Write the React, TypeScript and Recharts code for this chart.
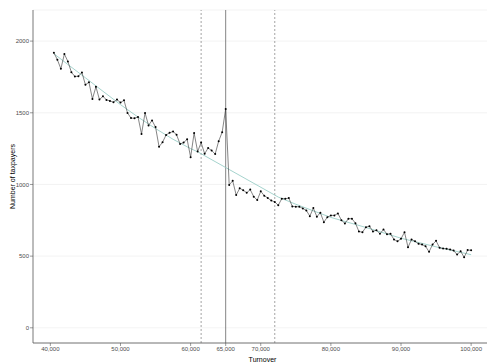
import { ComposedChart, Line, XAxis, YAxis, CartesianGrid, ReferenceLine } from 'recharts'

// turnover bins (500 wide) and the observed number of taxpayers in each
const turnover = [
  40500, 41000, 41500, 42000, 42500, 43000, 43500, 44000, 44500, 45000,
  45500, 46000, 46500, 47000, 47500, 48000, 48500, 49000, 49500, 50000,
  50500, 51000, 51500, 52000, 52500, 53000, 53500, 54000, 54500, 55000,
  55500, 56000, 56500, 57000, 57500, 58000, 58500, 59000, 59500, 60000,
  60500, 61000, 61500, 62000, 62500, 63000, 63500, 64000, 64500, 65000,
  65500, 66000, 66500, 67000, 67500, 68000, 68500, 69000, 69500, 70000,
  70500, 71000, 71500, 72000, 72500, 73000, 73500, 74000, 74500, 75000,
  75500, 76000, 76500, 77000, 77500, 78000, 78500, 79000, 79500, 80000,
  80500, 81000, 81500, 82000, 82500, 83000, 83500, 84000, 84500, 85000,
  85500, 86000, 86500, 87000, 87500, 88000, 88500, 89000, 89500, 90000,
  90500, 91000, 91500, 92000, 92500, 93000, 93500, 94000, 94500, 95000,
  95500, 96000, 96500, 97000, 97500, 98000, 98500, 99000, 99500, 100000,
]

const taxpayers = [
  1919, 1870, 1807, 1910, 1858, 1783, 1753, 1755, 1781, 1695,
  1713, 1597, 1681, 1592, 1615, 1590, 1583, 1574, 1592, 1571,
  1587, 1499, 1463, 1462, 1471, 1352, 1499, 1412, 1447, 1400,
  1263, 1295, 1345, 1360, 1370, 1346, 1282, 1292, 1315, 1190,
  1359, 1230, 1292, 1214, 1254, 1237, 1212, 1302, 1365, 1527,
  997, 1025, 926, 973, 960, 942, 964, 915, 891, 952,
  922, 905, 888, 878, 855, 901, 900, 905, 847, 845,
  845, 833, 819, 779, 835, 775, 803, 737, 772, 784,
  784, 798, 751, 728, 761, 761, 730, 672, 667, 702,
  709, 672, 681, 656, 686, 653, 656, 616, 604, 621,
  667, 562, 616, 604, 586, 581, 569, 530, 581, 607,
  558, 553, 551, 546, 539, 511, 534, 492, 542, 541,
]

// counterfactual fit, estimated outside the excluded window
const fitTurnover = [40500, 42500, 45000, 47500, 50000, 52500, 55000, 57500, 60000, 61000, 72500, 75000, 80000, 85000, 90000, 95000, 100000]
const fitValues = [1912, 1837, 1744, 1650, 1557, 1470, 1390, 1315, 1250, 1228, 912, 862, 770, 700, 625, 565, 510]

const windowBounds = [61500, 72000]
const notch = 65000

const xTicks = [40000, 50000, 60000, 65000, 70000, 80000, 90000, 100000]
const yTicks = [0, 500, 1000, 1500, 2000]

const FONT = '"Liberation Sans", Arial, sans-serif'

export default function App() {
  const dados = turnover.map((t, i) => ({ turnover: t, taxpayers: taxpayers[i] }))
  const ajuste = fitTurnover.map((t, i) => ({ turnover: t, fit: fitValues[i] }))

  return (
    <div style={{ position: 'fixed', left: 0, top: 0, width: 487, height: 363, overflow: 'hidden', background: '#fff' }}>
      <ComposedChart width={492} height={363} margin={{ top: 10, right: 0, bottom: 0, left: 0 }} style={{ fontFamily: FONT }}>
        <CartesianGrid vertical={false} stroke="#ebebeb" strokeWidth={0.6} />
        <XAxis
          dataKey="turnover"
          type="number"
          domain={[37525, 102975]}
          allowDataOverflow
          ticks={xTicks}
          tickFormatter={(v) => v.toLocaleString('en-US')}
          height={20}
          tickSize={3}
          tickMargin={1}
          tick={{ fontSize: 6, fill: '#4d4d4d' }}
          axisLine={{ stroke: '#555', strokeWidth: 0.8 }}
          tickLine={{ stroke: '#555', strokeWidth: 0.6 }}
          label={({ viewBox }: any) => (
            <text x={viewBox.x + viewBox.width / 2} y={359} textAnchor="middle" dominantBaseline="central" fontSize={7} fill="#000">
              Turnover
            </text>
          )}
        />
        <YAxis
          type="number"
          domain={[-106, 2217]}
          allowDataOverflow
          ticks={yTicks}
          width={33}
          tickSize={3}
          tickMargin={1}
          tick={{ fontSize: 6, fill: '#4d4d4d' }}
          axisLine={{ stroke: '#555', strokeWidth: 0.8 }}
          tickLine={{ stroke: '#555', strokeWidth: 0.6 }}
          label={({ viewBox }: any) => {
            const cy = viewBox.y + viewBox.height / 2
            return (
              <text x={12} y={cy} transform={`rotate(-90 12 ${cy})`} textAnchor="middle" dominantBaseline="central" fontSize={7} fill="#000">
                Number of taxpayers
              </text>
            )
          }}
        />
        {windowBounds.map((b) => (
          <ReferenceLine key={b} x={b} stroke="#666" strokeWidth={0.6} strokeDasharray="2 2" />
        ))}
        <ReferenceLine x={notch} stroke="#666" strokeWidth={0.8} />
        <Line
          data={ajuste}
          dataKey="fit"
          type="linear"
          stroke="#8ec8c0"
          strokeWidth={0.8}
          dot={false}
          isAnimationActive={false}
        />
        <Line
          data={dados}
          dataKey="taxpayers"
          type="linear"
          stroke="#333"
          strokeWidth={0.6}
          dot={{ r: 1, fill: '#000', stroke: 'none' }}
          isAnimationActive={false}
        />
      </ComposedChart>
    </div>
  )
}
